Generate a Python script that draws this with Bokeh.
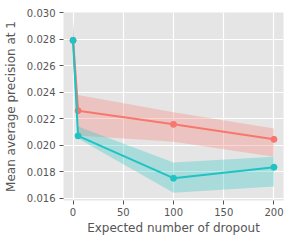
from bokeh.plotting import figure
from bokeh.models import FixedTicker, PrintfTickFormatter, ColumnDataSource
from bokeh.embed import file_html
from bokeh.resources import INLINE

x = [0, 5, 100, 200]
pink_mean = [0.0279, 0.02260, 0.02157, 0.02044]
pink_upper = [0.0293, 0.02378, 0.02249, 0.02125]
pink_lower = [0.0265, 0.02072, 0.02025, 0.01913]
teal_mean = [0.0279, 0.02070, 0.01751, 0.01834]
teal_upper = [0.0294, 0.02140, 0.01870, 0.01912]
teal_lower = [0.0263, 0.02050, 0.01641, 0.01688]

x_ticks = [0, 50, 100, 150, 200]
y_ticks = [0.016, 0.018, 0.020, 0.022, 0.024, 0.026, 0.028, 0.030]

PINK = "#F8766D"
TEAL = "#1FC3C3"

p = figure(width=284, height=238, output_backend="svg", toolbar_location=None,
           x_range=(-9.5, 209.5), y_range=(0.01583, 0.0300),
           min_border_left=61, min_border_top=12, min_border_right=1, min_border_bottom=38)

p.background_fill_color = "#E5E5E5"
p.border_fill_color = "white"
p.outline_line_color = None

for mean, up, lo, col in [(pink_mean, pink_upper, pink_lower, PINK),
                          (teal_mean, teal_upper, teal_lower, TEAL)]:
    src = ColumnDataSource(dict(x=x, m=mean, u=up, l=lo))
    p.varea(x="x", y1="l", y2="u", source=src, fill_color=col, fill_alpha=0.3)
for mean, col in [(pink_mean, PINK), (teal_mean, TEAL)]:
    src = ColumnDataSource(dict(x=x, m=mean))
    p.line(x="x", y="m", source=src, line_color=col, line_width=2)
    p.scatter(x="x", y="m", source=src, size=6, fill_color=col, line_color=col)

p.xaxis.ticker = FixedTicker(ticks=x_ticks)
p.yaxis.ticker = FixedTicker(ticks=y_ticks)
p.yaxis.formatter = PrintfTickFormatter(format="%.3f")

p.xgrid.grid_line_color = "white"
p.ygrid.grid_line_color = "white"
p.xgrid.grid_line_width = 1.2
p.ygrid.grid_line_width = 1.2

for ax in (p.xaxis, p.yaxis):
    ax.axis_line_color = None
    ax.major_tick_line_color = "#555555"
    ax.major_tick_out = 4
    ax.major_tick_in = 0
    ax.minor_tick_line_color = None
    ax.major_label_text_font = "DejaVu Sans"
    ax.major_label_text_font_size = "10px"
    ax.major_label_text_color = "#555555"
    ax.axis_label_text_font = "DejaVu Sans"
    ax.axis_label_text_font_size = "12px"
    ax.axis_label_text_font_style = "normal"
    ax.axis_label_text_color = "#555555"

p.xaxis.axis_label = "Expected number of dropout"
p.yaxis.axis_label = "Mean average precision at 1"
p.xaxis.major_label_standoff = 3
p.yaxis.major_label_standoff = 4
p.xaxis.axis_label_standoff = 2
p.yaxis.axis_label_standoff = 6

open("out.html", "w").write(file_html(p, INLINE))
